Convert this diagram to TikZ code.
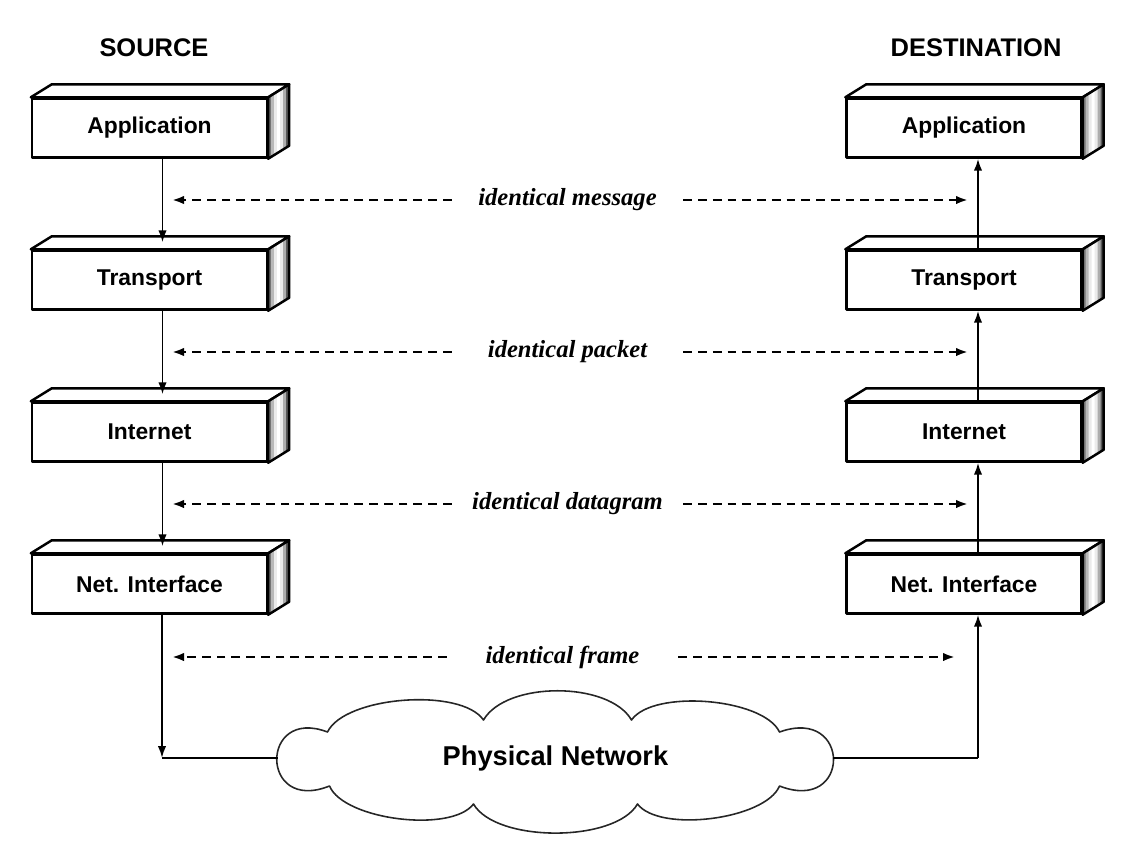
\documentclass[tikz,border=0pt]{standalone}
\usepackage{fontspec}
\setmainfont{Liberation Serif}
\setsansfont{Liberation Sans}
\usetikzlibrary{positioning,calc,arrows.meta}

\tikzset{
  layer/.style={draw, line width=1.4pt, line join=round, fill=white,
    minimum width=4.7cm, minimum height=1.18cm,
    font=\sffamily\bfseries\fontsize{13}{15}\selectfont},
  flow/.style={line width=1.1pt, -{Latex[length=2.4mm,width=1.7mm]}},
  same/.style={flow, line width=1.3pt, dash pattern=on 5pt off 3.4pt},
  tag/.style={font=\itshape\bfseries\fontsize{14}{16}\selectfont,
    minimum width=4.62cm, inner sep=0pt},
  head/.style={font=\sffamily\bfseries\fontsize{14.5}{17}\selectfont},
  puff/.style={line width=0.9pt, black!85, line join=round}
}

% top and shaded right face of a layer box
\newcommand{\boxsides}[1]{%
  \draw[line width=1.4pt, line join=round, fill=white]
    (#1.north west) -- ++(21,-13) -- ($(#1.north east)+(21,-13)$) -- (#1.north east) -- cycle;
  \foreach \i/\c in {0/55,3/28,6/8,9/0,12/8,15/32,18/65}
    \fill[black!\c] ($(#1.north east)+({\i},{-\i*13/21})$) -- ++(3.2,-3.2*13/21)
      -- ($(#1.south east)+({\i+3.2},{-(\i+3.2)*13/21})$) -- ($(#1.south east)+({\i},{-\i*13/21})$) -- cycle;
  \draw[line width=1.4pt, line join=round]
    (#1.north east) -- ++(21,-13) -- ($(#1.south east)+(21,-13)$) -- (#1.south east) -- cycle;
}

\begin{document}
\begin{tikzpicture}[x=0.02cm,y=-0.02cm]
  \useasboundingbox (0,0) rectangle (1142,853);

  \node[head] (src) at (154,48) {SOURCE};
  \node[head] (dst) at (976,48) {DESTINATION};

  % source stack
  \node[layer] (sApp) at (149.5,128) {Application};
  \node[layer] (sTra) at (149.5,280) {Transport};
  \node[layer] (sInt) at (149.5,432) {Internet};
  \node[layer] (sNet) at (149.5,584) {Net. Interface};

  % destination stack
  \node[layer] (dApp) at (964,128) {Application};
  \node[layer] (dTra) at (964,280) {Transport};
  \node[layer] (dInt) at (964,432) {Internet};
  \node[layer] (dNet) at (964,584) {Net. Interface};

  \foreach \b in {sApp,sTra,sInt,sNet,dApp,dTra,dInt,dNet}
    {\boxsides{\b}}

  % down the source side
  \draw[flow] ($(sApp.south)+(13,0)$) -- ($(sTra.north)+(13,-7)$);
  \draw[flow] ($(sTra.south)+(13,0)$) -- ($(sInt.north)+(13,-7)$);
  \draw[flow] ($(sInt.south)+(13,0)$) -- ($(sNet.north)+(13,-7)$);

  % up the destination side
  \draw[flow] ($(dTra.north)+(14,0)$) -- ($(dApp.south)+(14,0)$);
  \draw[flow] ($(dInt.north)+(14,0)$) -- ($(dTra.south)+(14,0)$);
  \draw[flow] ($(dNet.north)+(14,0)$) -- ($(dInt.south)+(14,0)$);

  % identical objects
  \coordinate (sMsg) at (172,200);  \coordinate (dMsg) at (968,200);
  \coordinate (sPkt) at (172,352);  \coordinate (dPkt) at (968,352);
  \coordinate (sDgm) at (172,504);  \coordinate (dDgm) at (968,504);
  \coordinate (sFrm) at (172,657);  \coordinate (dFrm) at (955,657);

  \node[tag] (msg) at (567.5,200) {identical message};
  \node[tag] (pkt) at (567.5,352) {identical packet};
  \node[tag] (dgm) at (567.5,504) {identical datagram};
  \node[tag] (frm) at (562.5,657) {identical frame};

  \draw[same] (msg.west) -- (sMsg);  \draw[same] (msg.east) -- (dMsg);
  \draw[same] (pkt.west) -- (sPkt);  \draw[same] (pkt.east) -- (dPkt);
  \draw[same] (dgm.west) -- (sDgm);  \draw[same] (dgm.east) -- (dDgm);
  \draw[same] (frm.west) -- (sFrm);  \draw[same] (frm.east) -- (dFrm);

  % physical network
  \node[minimum width=11.1cm, minimum height=2.9cm, inner sep=0pt,
        font=\sffamily\bfseries\fontsize{15.5}{18}\selectfont] (net) at (555.5,758) {Physical Network};
  \begin{scope}[shift={(net.center)}, y=0.02cm]
    \draw[puff] (-228,26) to[bend left=60, looseness=0.65] (-72,38)
      to[bend left=60, looseness=0.78] (76,38)
      to[bend left=60, looseness=0.65] (224,26)
      .. controls (296,52) and (296,-56) .. (224,-28)
      to[bend left=60, looseness=0.65] (82,-46)
      to[bend left=60, looseness=0.7] (-82,-46)
      to[bend left=60, looseness=0.65] (-226,-28)
      .. controls (-296,-56) and (-296,52) .. cycle;
  \end{scope}

  \coordinate (sBot) at (162,758);
  \coordinate (dBot) at (978,758);
  \draw[flow] ($(sNet.south)+(12.5,0)$) -- (sBot);
  \draw[line width=1.1pt] (sBot) -- (net.west);
  \draw[line width=1.1pt] (net.east) -- (dBot);
  \draw[flow] (dBot) -- ($(dNet.south)+(14,0)$);
\end{tikzpicture}
\end{document}
